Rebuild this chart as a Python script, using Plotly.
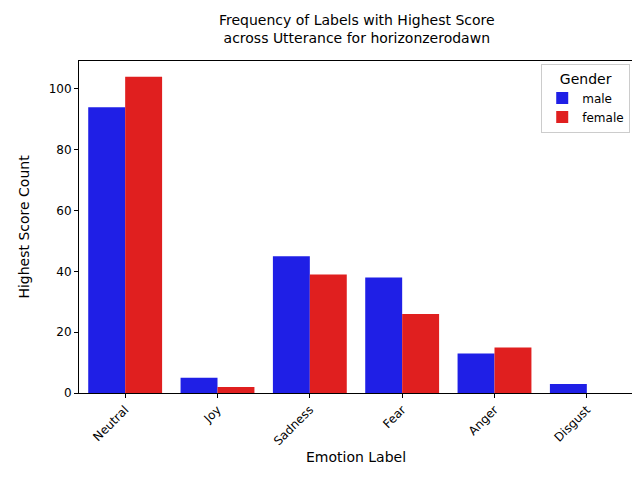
import plotly.graph_objects as go

emotions = ['Neutral', 'Joy', 'Sadness', 'Fear', 'Anger', 'Disgust']
male = [94, 5, 45, 38, 13, 3]
female = [104, 2, 39, 26, 15, 0]

fig = go.Figure()
fig.add_bar(x=emotions, y=male, name='male', marker_color='#1f1fe6', marker_line_width=0)
fig.add_bar(x=emotions, y=female, name='female', marker_color='#e01f1f', marker_line_width=0)

axis_style = dict(showline=True, linecolor='black', mirror=True, ticks='outside',
                  ticklen=4, tickcolor='black', showgrid=False, zeroline=False,
                  automargin=False, tickfont=dict(size=12))
fig.update_layout(
    width=640, height=480, plot_bgcolor='white', paper_bgcolor='white',
    font=dict(family='DejaVu Sans', size=12, color='black'),
    margin=dict(l=71, r=15, t=53, b=95),
    barmode='group', bargap=0.2, bargroupgap=0,
    title=dict(text='Frequency of Labels with Highest Score<br>across Utterance for horizonzerodawn',
               x=0.545, xanchor='center', y=0.965, yanchor='top', font=dict(size=14)),
    legend=dict(title=dict(text='Gender', side='top center'), x=0.995, y=0.99,
                xanchor='right', yanchor='top', bordercolor='#cccccc', borderwidth=1,
                font=dict(size=12)),
    xaxis=dict(title=dict(text='Emotion Label', standoff=5), tickangle=-45, **axis_style),
    yaxis=dict(title=dict(text='Highest Score Count'), range=[0, 109.2], dtick=20, **axis_style),
)
fig.write_html('out.html')
